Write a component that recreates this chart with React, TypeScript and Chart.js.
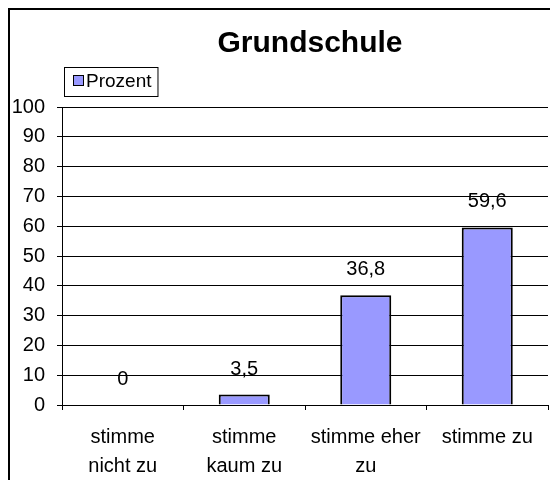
import React, { useEffect, useRef } from "react";
import { Chart, registerables } from "chart.js";

Chart.register(...registerables);

// ---- data ----
const titleText = "Grundschule";
const seriesLabel = "Prozent";
const categories: string[][] = [
  ["stimme", "nicht zu"],
  ["stimme", "kaum zu"],
  ["stimme eher", "zu"],
  ["stimme zu"],
];
const values: number[] = [0, 3.5, 36.8, 59.6];
const yMin = 0;
const yMax = 100;
const yStep = 10;

const FONT = "'Liberation Sans', Arial, sans-serif";
const BAR_COLOR = "#9999FF";

const headerPlugin = {
  id: "headerPlugin",
  afterDraw(chart: any) {
    const ctx = chart.ctx as CanvasRenderingContext2D;
    ctx.save();
    // title
    ctx.fillStyle = "#000";
    ctx.font = `bold 30px ${FONT}`;
    ctx.textAlign = "center";
    ctx.textBaseline = "alphabetic";
    ctx.fillText(titleText, 300, 42);
    // legend
    const ds = chart.data.datasets[0];
    ctx.font = `19px ${FONT}`;
    const tw = ctx.measureText(ds.label).width;
    const bx = 54;
    const by = 57;
    const bh = 29;
    const textX = 76;
    const bw = textX - bx + tw + 6;
    ctx.lineWidth = 1;
    ctx.strokeStyle = "#000";
    ctx.fillStyle = "#fff";
    ctx.fillRect(bx, by, bw, bh);
    ctx.strokeRect(bx + 0.5, by + 0.5, bw, bh);
    ctx.fillStyle = ds.backgroundColor;
    ctx.fillRect(63, 65, 11, 11);
    ctx.strokeRect(63.5, 65.5, 10, 10);
    ctx.fillStyle = "#000";
    ctx.textAlign = "left";
    ctx.fillText(ds.label, textX, 77);
    ctx.restore();
  },
};

const valueLabelPlugin = {
  id: "valueLabelPlugin",
  afterDatasetsDraw(chart: any) {
    const ctx = chart.ctx as CanvasRenderingContext2D;
    const meta = chart.getDatasetMeta(0);
    const data = chart.data.datasets[0].data as number[];
    ctx.save();
    ctx.font = `20px ${FONT}`;
    ctx.fillStyle = "#000";
    ctx.textAlign = "center";
    ctx.textBaseline = "alphabetic";
    meta.data.forEach((el: any, i: number) => {
      const { x, y } = el.getProps(["x", "y"], true);
      ctx.fillText(String(data[i]).replace(".", ","), x, y - 20);
    });
    ctx.restore();
  },
};

export default function App() {
  const ref = useRef<HTMLCanvasElement | null>(null);

  useEffect(() => {
    if (!ref.current) return;
    const chart = new Chart(ref.current, {
      type: "bar",
      data: {
        labels: categories,
        datasets: [
          {
            label: seriesLabel,
            data: values,
            backgroundColor: BAR_COLOR,
            borderColor: "#000",
            borderWidth: 2,
            categoryPercentage: 1,
            barPercentage: 0.42,
          },
        ],
      },
      options: {
        responsive: false,
        animation: false,
        devicePixelRatio: 1,
        layout: { padding: { top: 97, right: 2, left: 0, bottom: 0 } },
        plugins: {
          legend: { display: false },
          title: { display: false },
          tooltip: { enabled: false },
        },
        scales: {
          x: {
            offset: true,
            grid: {
              offset: true,
              drawOnChartArea: false,
              drawTicks: true,
              tickLength: 5,
              color: "#000",
              lineWidth: 1,
            },
            border: { display: true, color: "#000", width: 1 },
            ticks: {
              color: "#000",
              font: { family: FONT, size: 20, lineHeight: 1.45 },
              padding: 13,
              maxRotation: 0,
              minRotation: 0,
              autoSkip: false,
            },
            afterFit(scale: any) {
              scale.height = 75;
            },
          },
          y: {
            min: yMin,
            max: yMax,
            ticks: {
              stepSize: yStep,
              color: "#000",
              font: { family: FONT, size: 20 },
              padding: 12,
            },
            grid: {
              color: "#000",
              lineWidth: 1,
              tickLength: 5,
              drawTicks: true,
            },
            border: { display: true, color: "#000", width: 1 },
            afterFit(scale: any) {
              scale.width = 52;
            },
          },
        },
      },
      plugins: [valueLabelPlugin, headerPlugin],
    });
    return () => chart.destroy();
  }, []);

  return (
    <div
      style={{
        position: "fixed",
        left: 8,
        top: 8,
        width: 542,
        height: 472,
        borderTop: "2px solid #000",
        borderLeft: "2px solid #000",
        boxSizing: "border-box",
        overflow: "hidden",
        background: "#fff",
      }}
    >
      <canvas ref={ref} width={540} height={470} style={{ display: "block" }} />
    </div>
  );
}
